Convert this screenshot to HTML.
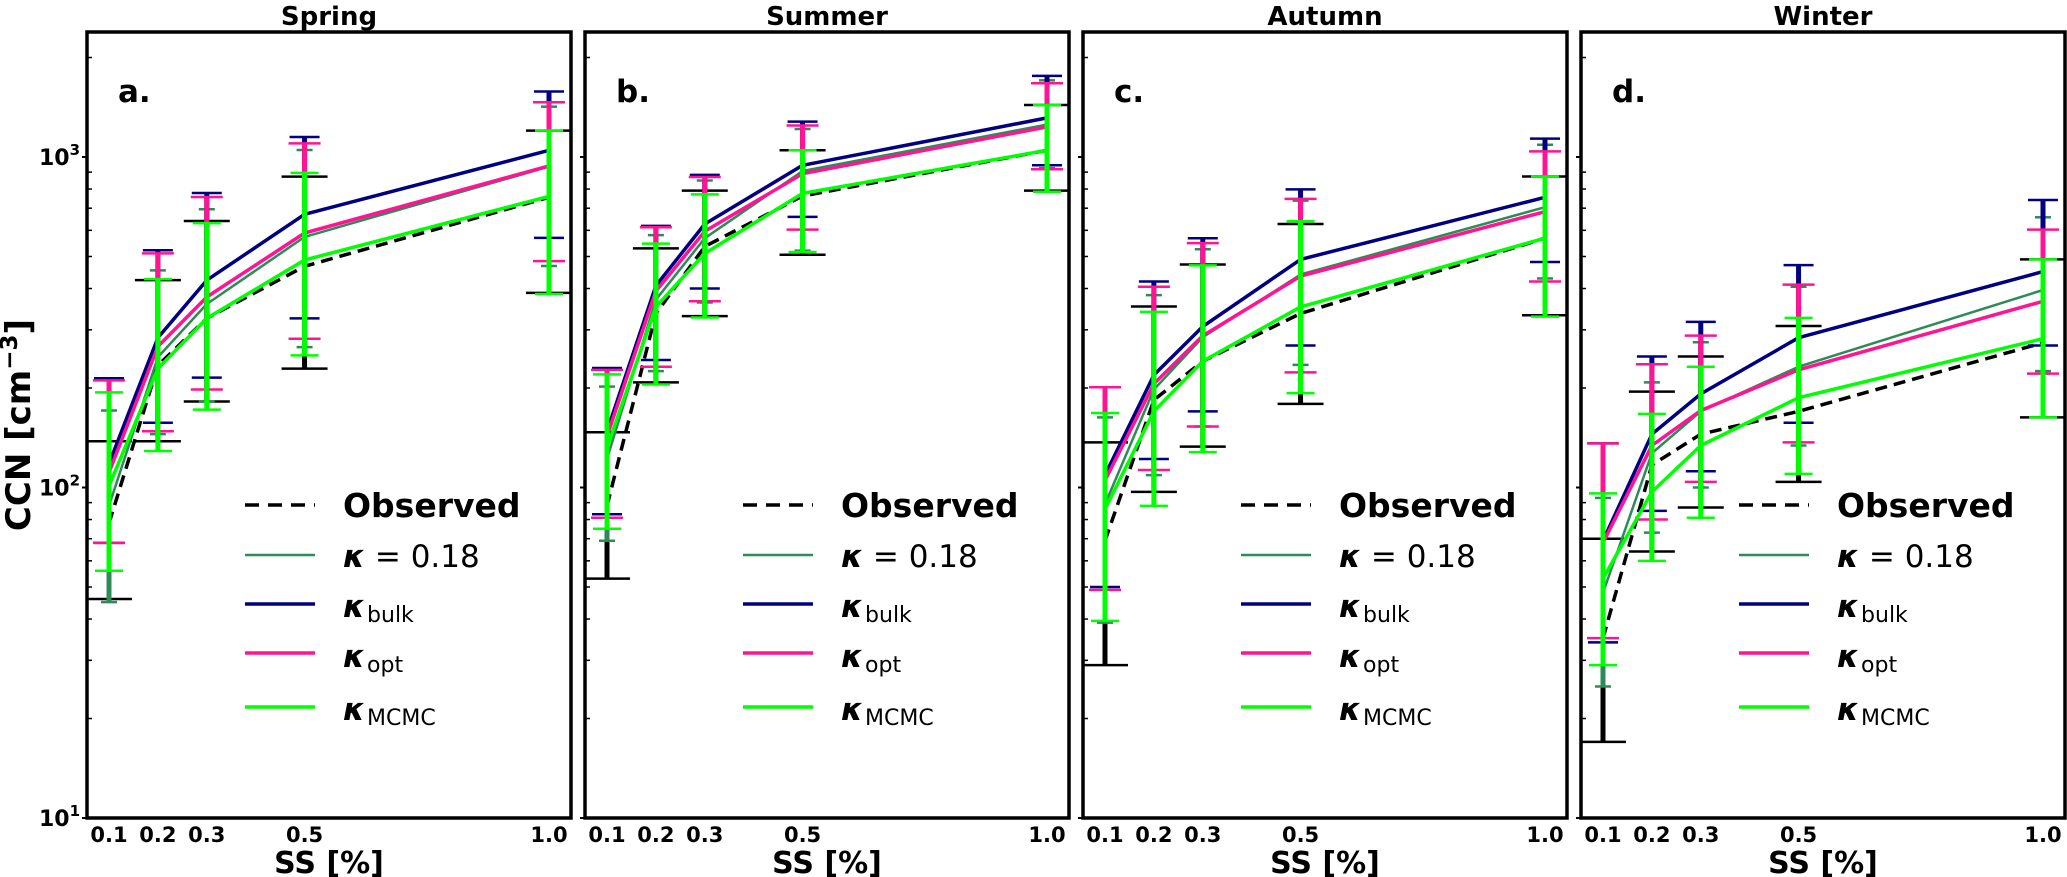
<!DOCTYPE html>
<html><head><meta charset="utf-8"><style>
html,body{margin:0;padding:0;background:#fff;}
svg{display:block;font-family:"DejaVu Sans","Liberation Sans",sans-serif;}
</style></head><body>
<svg id="chart" width="2067" height="877" viewBox="0 0 2067 877" xmlns="http://www.w3.org/2000/svg"></svg>
<script>
const ss=[0.1,0.2,0.3,0.5,1.0];
const seasons=['Spring','Summer','Autumn','Winter'];
const letters=['a.','b.','c.','d.'];
const xTickLabels=['0.1','0.2','0.3','0.5','1.0'];
const yTickVals=[10,100,1000];
const yTickExp=['1','2','3'];

const obsMid=[[78,234,325,467,755],[88,336,536,762,1048],[69,184,241,336,568],[35,117,145,170,274]];
const obsHi=[[138,424,640,872,1202],[147,529,791,1048,1436],[137,353,473,627,873],[70,195,249,308,490]];
const obsLo=[[46,138,182,229,388],[53,208,330,506,791],[29,97,133,179,332],[17,64,87,104,163]];

const k018Mid=[[88,248,359,573,935],[122,370,568,907,1253],[89,198,285,441,705],[48,127,170,232,396]];
const k018Hi=[[171,454,695,1050,1420],[202,580,849,1215,1706],[163,382,526,738,1089],[93,208,275,405,657]];
const k018Lo=[[45,145,182,266,468],[69,225,363,521,925],[39,109,153,235,429],[25,73,100,134,225]];

const bulkMid=[[118,284,424,671,1048],[148,408,627,944,1313],[109,219,307,490,755],[69,145,192,284,450]];
const bulkHi=[[214,522,778,1150,1578],[230,619,883,1280,1760],[201,420,568,798,1137],[136,249,317,471,741]];
const bulkLo=[[68,157,215,325,569],[83,243,400,659,944],[50,122,170,269,481],[34,85,112,157,269]];

const optMid=[[111,267,377,589,940],[143,393,596,890,1233],[105,206,288,436,683],[68,134,171,227,366]];
const optHi=[[211,511,757,1100,1465],[227,613,870,1245,1672],[201,405,549,747,1040],[136,236,288,411,603]];
const optLo=[[68,148,198,282,484],[81,232,366,603,918],[49,113,153,223,420],[35,80,104,137,221]];

const mcmcMid=[[101,229,325,488,760],[132,352,511,776,1048],[86,170,241,352,568],[53,97,134,187,282]];
const mcmcHi=[[194,427,631,895,1202],[220,547,771,1048,1436],[168,340,470,639,873],[96,167,232,326,490]];
const mcmcLo=[[56,129,172,251,385],[75,205,327,516,785],[39.5,88,128,193,329],[29,60,81,110,163]];

const NS='http://www.w3.org/2000/svg';
const svg=document.getElementById('chart');
const panelLeft=[87,585,1083,1581];
const PW=484, TOP=32, BOT=818;
function mk(tag,attrs,parent){const e=document.createElementNS(NS,tag);for(const k in attrs)e.setAttribute(k,attrs[k]);(parent||svg).appendChild(e);return e;}
function xs(p,v){return panelLeft[p]+(v-0.055)/0.99*PW;}
function ys(v){return BOT-(Math.log10(v)-1)*330.5;}

const series=[
 {name:'observed',mid:obsMid,hi:obsHi,lo:obsLo,color:'#000000',lw:3.5,dash:'12,7',cap:23},
 {name:'kappa-018',mid:k018Mid,hi:k018Hi,lo:k018Lo,color:'#2e8b57',lw:2.5,dash:null,cap:8},
 {name:'kappa-bulk',mid:bulkMid,hi:bulkHi,lo:bulkLo,color:'#000080',lw:3.5,dash:null,cap:15},
 {name:'kappa-opt',mid:optMid,hi:optHi,lo:optLo,color:'#ff1493',lw:3.5,dash:null,cap:16},
 {name:'kappa-mcmc',mid:mcmcMid,hi:mcmcHi,lo:mcmcLo,color:'#00ff00',lw:3.5,dash:null,cap:14}
];

for(let p=0;p<4;p++){
  const g=mk('g',{});
  
  
  const L=panelLeft[p];
  const t=mk('text',{x:L+PW/2,y:25,'text-anchor':'middle','font-size':26,'font-weight':'bold'},g);
  t.textContent=seasons[p];
  
  
  const lt=mk('text',{x:L+31,y:102,'font-size':31,'font-weight':'bold'},g);
  lt.textContent=letters[p];
  
  
  // y ticks
  for(let d=1;d<=3;d++){
    for(let m=1;m<=9;m++){
      const v=m*Math.pow(10,d);
      if(v>2400)continue;
      const y=ys(v);
      if(m===1){
        const tk=mk('line',{x1:L-5,x2:L,y1:y,y2:y,stroke:'#000','stroke-width':2},g);
        
        
      } else {
        const tk=mk('line',{x1:L,x2:L+5,y1:y,y2:y,stroke:'#000','stroke-width':1.5},g);
        
        
      }
    }
  }
  // series
  series.forEach(s=>{
    const sg=mk('g',{},g);
    
    
    let d='';
    ss.forEach((v,i)=>{d+=(i?'L':'M')+xs(p,v).toFixed(1)+','+ys(s.mid[p][i]).toFixed(1);});
    const pl=mk('path',{d:d,fill:'none',stroke:s.color,'stroke-width':s.lw,'stroke-linejoin':'round'},sg);
    if(s.dash)pl.setAttribute('stroke-dasharray',s.dash);
    
    
    ss.forEach((v,i)=>{
      const x=xs(p,v), yh=ys(s.hi[p][i]), yl=ys(s.lo[p][i]);
      const eb=mk('line',{x1:x,x2:x,y1:yh,y2:yl,stroke:s.color,'stroke-width':5},sg);
      
      
      [yh,yl].forEach(yy=>{
        const c=mk('line',{x1:x-s.cap,x2:x+s.cap,y1:yy,y2:yy,stroke:s.color,'stroke-width':2.5},sg);
        
        
      });
    });
  });
  // frame
  const fr=mk('rect',{x:L,y:TOP,width:PW,height:BOT-TOP,fill:'none',stroke:'#000','stroke-width':3.5},g);
  
  
  // x tick labels
  ss.forEach((v,i)=>{
    const tl=mk('text',{x:xs(p,v),y:842,'text-anchor':'middle','font-size':21,'font-weight':'bold'},g);
    tl.textContent=xTickLabels[i];
    
    
  });
  const xt=mk('text',{x:L+PW/2,y:873,'text-anchor':'middle','font-size':30,'font-weight':'bold'},g);
  xt.textContent='SS [%]';
  
  
  // legend
  const lg=mk('g',{},g);
  
  
  const ly=[505,555,604,653,707];
  series.forEach((s,i)=>{
    const ll=mk('line',{x1:L+158,x2:L+228,y1:ly[i],y2:ly[i],stroke:s.color,'stroke-width':s.lw},lg);
    if(s.dash)ll.setAttribute('stroke-dasharray','14,9');
    
    
  });
  const tx=L+256;
  const l0=mk('text',{x:tx,y:517,'font-size':33,'font-weight':'bold'},lg);
  l0.textContent='Observed';
  
  
  const l1=mk('text',{x:tx,y:567,'font-size':31},lg);
  l1.innerHTML='<tspan font-weight="bold" font-style="italic">κ</tspan> = 0.18';
  
  
  const subs=[['bulk',617],['opt',667],['MCMC',720]];
  subs.forEach((sb,i)=>{
    const le=mk('text',{x:tx,y:sb[1],'font-size':31},lg);
    le.innerHTML='<tspan font-weight="bold" font-style="italic">κ</tspan><tspan font-size="22" dy="5" dx="2">'+sb[0]+'</tspan>';
    
    
  });
}
// y tick labels (panel a)
yTickVals.forEach((v,i)=>{
  const t=mk('text',{x:80,y:ys(v)+8,'text-anchor':'end','font-size':22,'font-weight':'bold'});
  t.innerHTML='10<tspan font-size="15" dy="-10">'+yTickExp[i]+'</tspan>';
  
  
});
const yt=mk('text',{x:0,y:0,'text-anchor':'middle','font-size':34,'font-weight':'bold',transform:'translate(30,425) rotate(-90)'});
yt.innerHTML='CCN [cm<tspan font-size="23" dy="-13">−3</tspan><tspan dy="13">]</tspan>';


</script>
</body></html>
